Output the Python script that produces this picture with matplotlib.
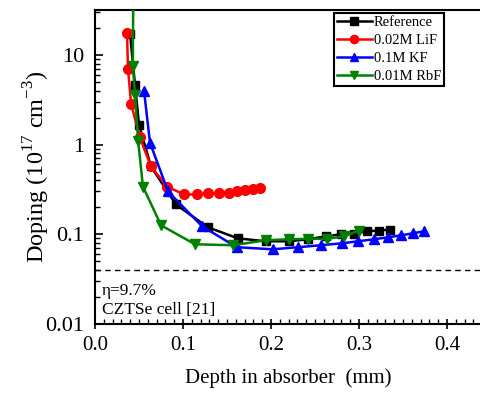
import matplotlib
matplotlib.use("Agg")
import matplotlib.pyplot as plt
from matplotlib.ticker import MultipleLocator, LogLocator, NullFormatter, FuncFormatter

plt.rcParams['font.family'] = ['Liberation Serif', 'DejaVu Serif']
plt.rcParams['mathtext.fontset'] = 'custom'
plt.rcParams['mathtext.rm'] = 'Liberation Serif'

ref_x = [0.0398, 0.0455, 0.050, 0.0636, 0.092, 0.128, 0.1625, 0.194, 0.2205, 0.242, 0.2625, 0.2795, 0.294, 0.309, 0.323, 0.3355]
ref_y = [17.1, 4.6, 1.67, 0.57, 0.215, 0.12, 0.090, 0.0836, 0.0836, 0.088, 0.095, 0.100, 0.102, 0.108, 0.110, 0.113]

lif_x = [0.0364, 0.0375, 0.041, 0.051, 0.0636, 0.082, 0.101, 0.116, 0.128, 0.141, 0.152, 0.161, 0.170, 0.180, 0.1875]
lif_y = [17.5, 7.0, 2.85, 1.2, 0.57, 0.34, 0.278, 0.278, 0.285, 0.285, 0.292, 0.300, 0.310, 0.320, 0.330]

kf_x = [0.0557, 0.0625, 0.083, 0.1216, 0.161, 0.202, 0.2307, 0.257, 0.2807, 0.299, 0.317, 0.333, 0.348, 0.361, 0.374]
kf_y = [3.98, 1.05, 0.30, 0.123, 0.0718, 0.068, 0.0718, 0.0755, 0.0794, 0.0836, 0.088, 0.0925, 0.0974, 0.1025, 0.108]

rbf_x = [0.0435, 0.043, 0.0455, 0.049, 0.0545, 0.075, 0.1136, 0.157, 0.194, 0.220, 0.242, 0.2636, 0.283, 0.300]
rbf_y = [60.0, 7.5, 3.6, 1.1, 0.34, 0.126, 0.0774, 0.0755, 0.0858, 0.088, 0.089, 0.089, 0.095, 0.110]

eta_level = 0.04

fig = plt.figure(figsize=(4.81, 3.94), dpi=100)
ax = fig.add_axes([95/481, 70/394, (0.44*880)/481, 314/394])

lw = 1.8
ms = 7
ax.plot(ref_x, ref_y, '-s', color='black', lw=lw, ms=ms-1, label='Reference', zorder=3)
ax.plot(lif_x, lif_y, '-o', color='#ff0000', lw=lw, ms=ms, label='0.02M LiF', zorder=3)
ax.plot(kf_x, kf_y, '-^', color='#0000ff', lw=lw, ms=ms, label='0.1M KF', zorder=3)
ax.plot(rbf_x, rbf_y, '-v', color='#008000', lw=lw, ms=ms, label='0.01M RbF', zorder=3)

ax.axhline(eta_level, color='black', ls=(0, (4, 3)), lw=1.0)

ax.set_yscale('log')
ax.set_xlim(0, 0.44)
ax.set_ylim(0.01, 10**1.5)

ax.set_yticks([0.01, 0.1, 1, 10])
ax.set_yticklabels(['0.01', '0.1', '1', '10'])
ax.yaxis.set_minor_locator(LogLocator(base=10, subs=range(2, 10)))
ax.yaxis.set_minor_formatter(NullFormatter())

ax.xaxis.set_major_locator(MultipleLocator(0.1))
ax.xaxis.set_minor_locator(MultipleLocator(0.01))
ax.xaxis.set_major_formatter(FuncFormatter(lambda v, p: f'{v:.1f}'))

ax.tick_params(axis='y', which='major', direction='in', length=6, width=1.2, labelsize=16, pad=8)
ax.tick_params(axis='y', which='minor', direction='in', length=3.5, width=1.0)
ax.tick_params(axis='x', which='major', direction='inout', length=7, width=1.2, labelsize=15, pad=5)
ax.tick_params(axis='x', which='minor', direction='in', length=3.5, width=1.0)

for s in ax.spines.values():
    s.set_linewidth(1.5)

ax.set_xlabel('Depth in absorber  (mm)', fontsize=15, labelpad=10)
ax.set_ylabel(r'Doping (10$^{17}$ cm$^{-3}$)', fontsize=17.5, labelpad=-5)

ax.text(0.008, 0.0233, 'η=9.7%', fontsize=12.5, ha='left', va='center')
ax.text(0.008, 0.0143, 'CZTSe cell [21]', fontsize=12.5, ha='left', va='center')

leg = ax.legend(loc='upper left', bbox_to_anchor=((334-95)/(0.44*880), 1 - 3/314), fontsize=10.5,
                frameon=True, fancybox=False, edgecolor='black', framealpha=1,
                handlelength=2.4, handletextpad=0.15, borderpad=0.2, labelspacing=0.32,
                borderaxespad=0.0, markerscale=0.85)
leg.get_frame().set_linewidth(1.5)

fig.savefig('out.png', dpi=100)
